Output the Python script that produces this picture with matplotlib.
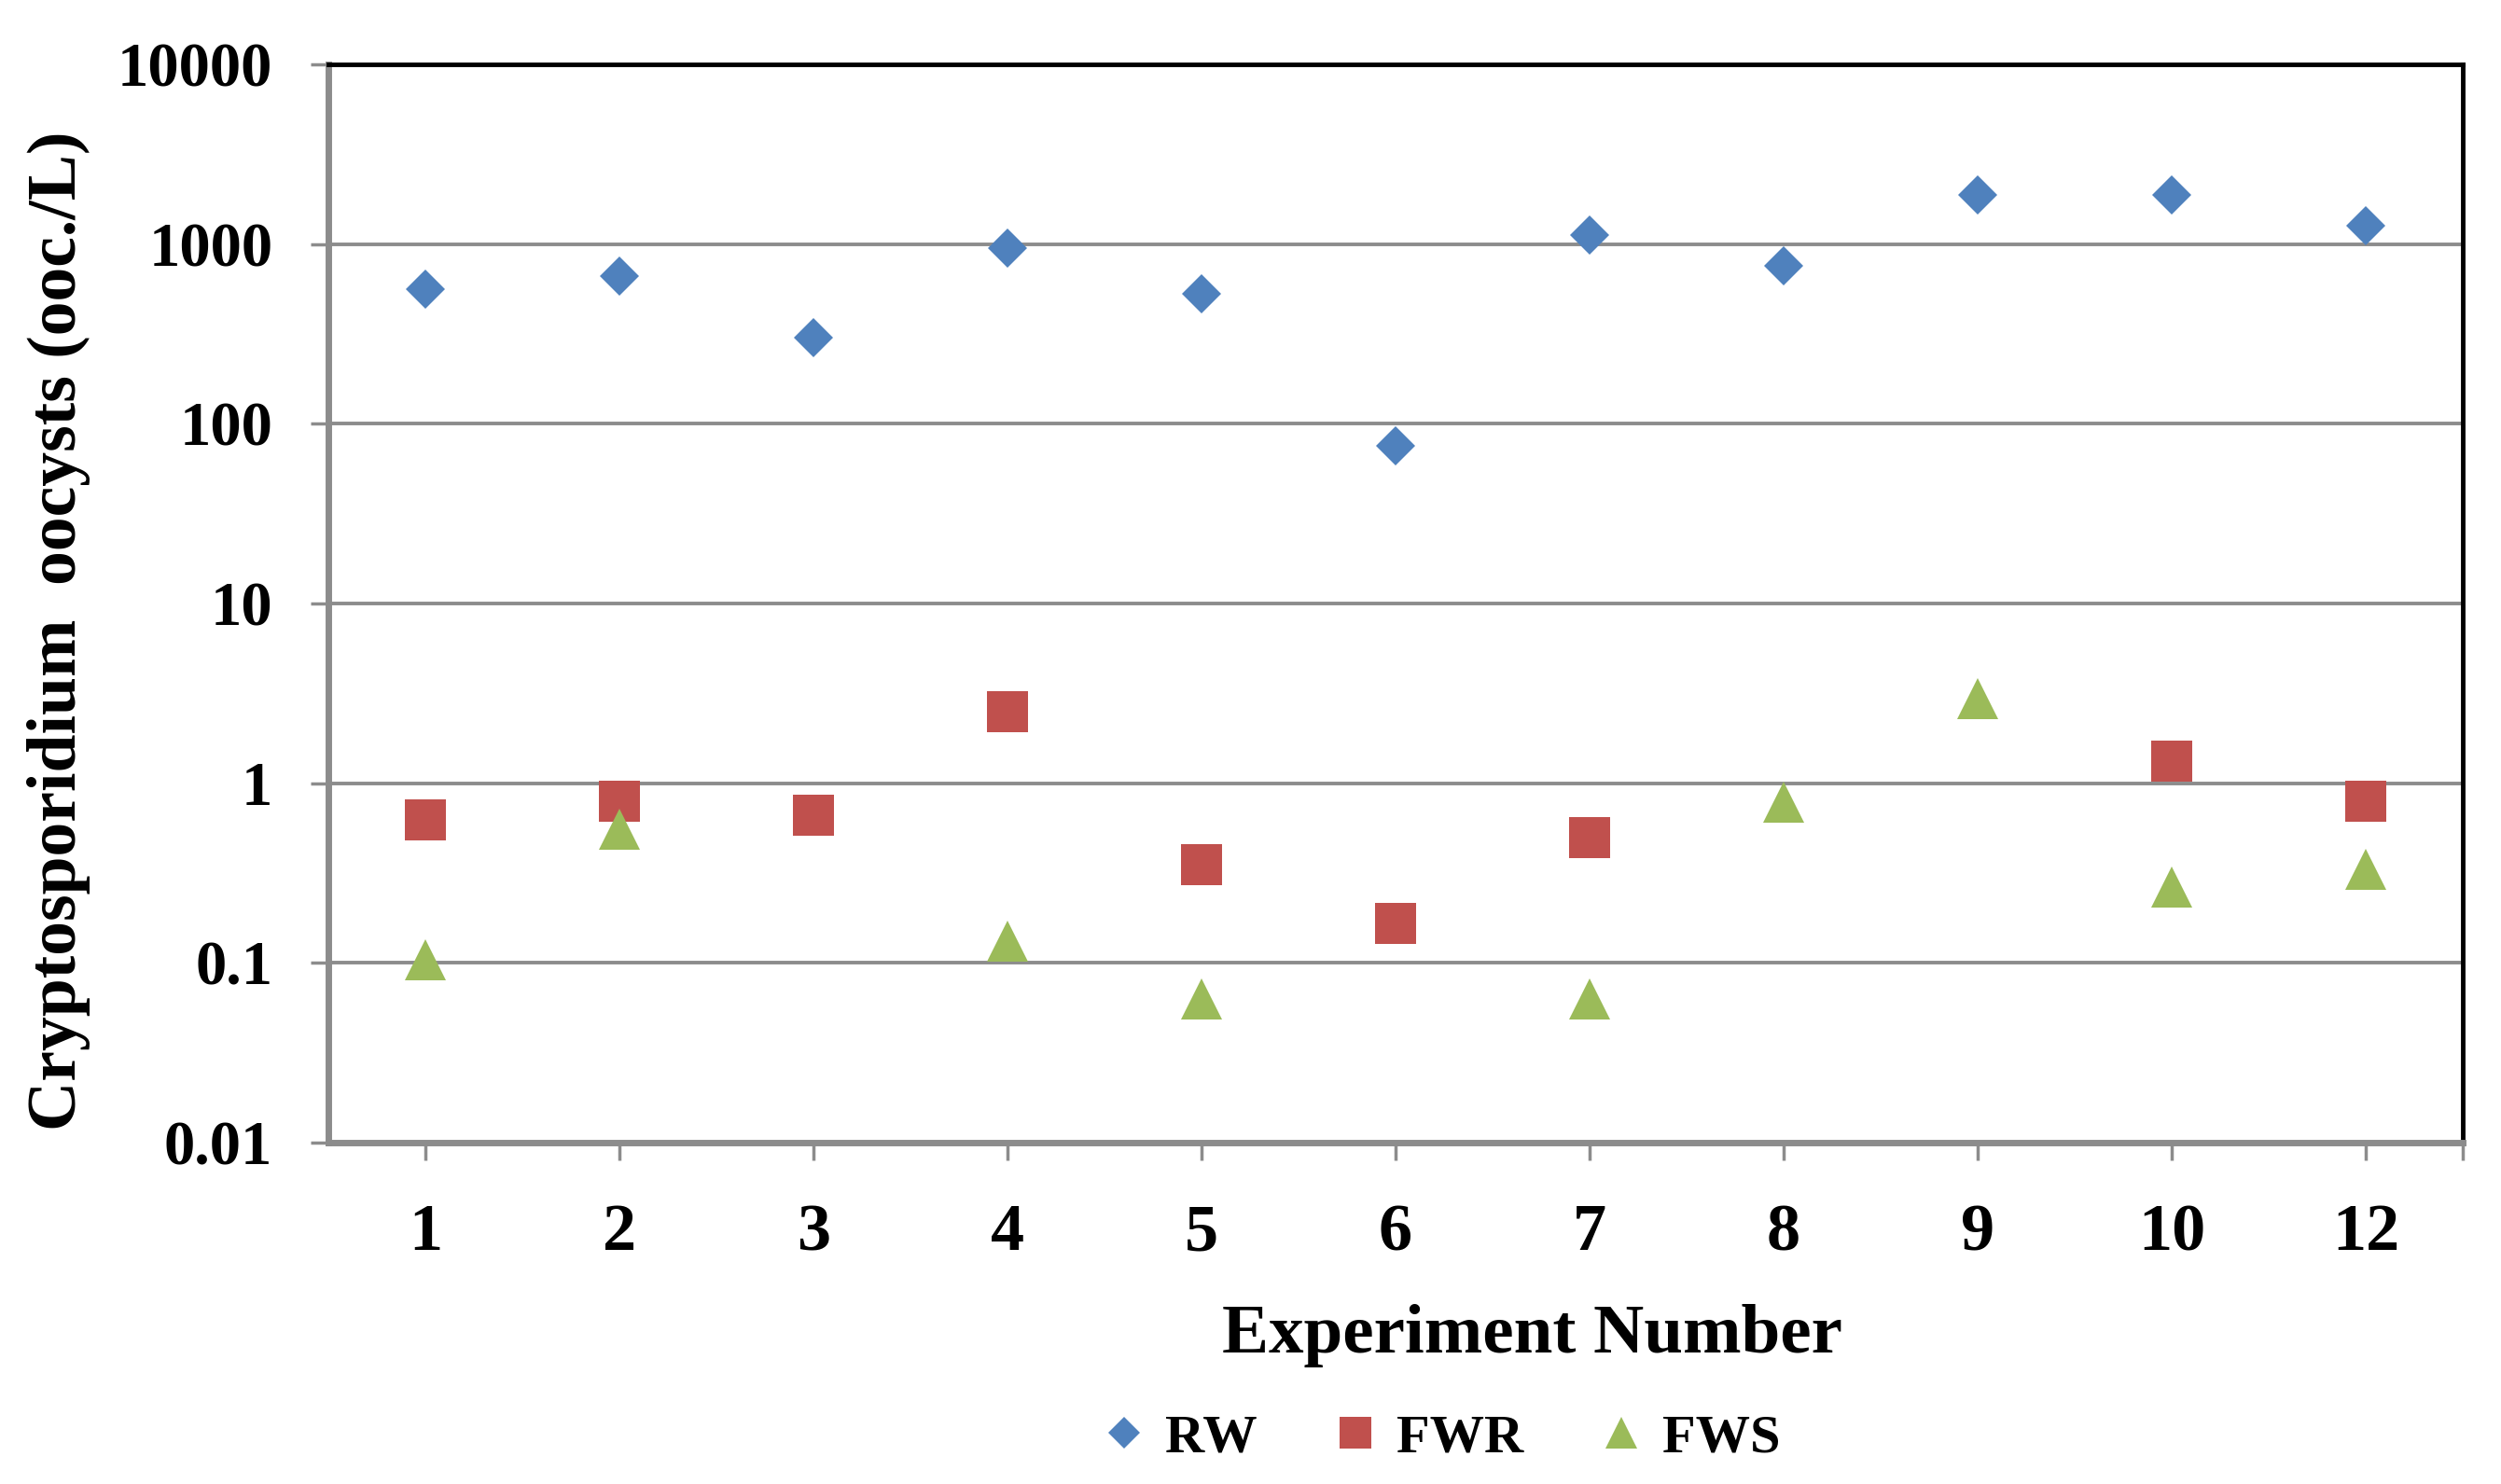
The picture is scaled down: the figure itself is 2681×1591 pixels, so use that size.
import numpy as np
import matplotlib
matplotlib.use('Agg')
import matplotlib.pyplot as plt
from matplotlib.ticker import NullLocator

# ---- data ----
categories = ['1', '2', '3', '4', '5', '6', '7', '8', '9', '10', '12']
rw = [560, 665, 300, 950, 530, 75, 1120, 755, 1880, 1880, 1260]
fwr = [0.626, 0.79, 0.665, 2.50, 0.354, 0.165, 0.50, np.nan, np.nan, 1.33, 0.79]
fws = [0.1035, 0.555, np.nan, 0.132, 0.063, np.nan, 0.063, 0.78, 2.97, 0.264, 0.33]
y_ticks = [0.01, 0.1, 1, 10, 100, 1000, 10000]
y_tick_labels = ['0.01', '0.1', '1', '10', '100', '1000', '10000']
series_names = ['RW', 'FWR', 'FWS']

plt.rcParams['font.family'] = ['Liberation Serif', 'DejaVu Serif']
plt.rcParams['font.weight'] = 'bold'

W, H = 2681, 1591
fig = plt.figure(figsize=(W / 100, H / 100), dpi=100)
left, right, top, bottom = 352, 2640, 69, 1225
ax = fig.add_axes([left / W, 1 - bottom / H, (right - left) / W, (bottom - top) / H])

grid_col = '#8c8c8c'
x = np.arange(len(categories))
ax.plot(x, rw, ls='none', marker='D', ms=21.4, color='#4F81BD', mec='#4F81BD', mew=0, label=series_names[0], zorder=3)
ax.plot(x, fwr, ls='none', marker='s', ms=31, color='#C0504D', mec='#C0504D', mew=0, label=series_names[1], zorder=4)
ax.plot(x, fws, ls='none', marker='^', ms=31, color='#9BBB59', mec='#9BBB59', mew=0, label=series_names[2], zorder=5)

ax.set_yscale('log')
ax.set_ylim(0.01, 10000)
ax.set_xlim(-0.5, 10.5)
ax.set_yticks(y_ticks)
ax.set_yticklabels(y_tick_labels)
ax.yaxis.set_minor_locator(NullLocator())
ax.set_xticks(x)
ax.set_xticklabels(categories)
ax.set_xticks([10.5], minor=True)

ax.tick_params(axis='x', which='both', length=14, width=2.5, color=grid_col,
               direction='out', pad=33, labelsize=52)
ax.tick_params(axis='y', which='major', length=14, width=2.5, color=grid_col,
               direction='out', pad=29, labelsize=48)
for lab in ax.get_xticklabels() + ax.get_yticklabels():
    lab.set_fontweight('bold')

ax.yaxis.grid(True, color=grid_col, lw=2.8)
ax.set_axisbelow(True)

ax.spines['left'].set_color(grid_col)
ax.spines['left'].set_linewidth(5)
ax.spines['bottom'].set_color(grid_col)
ax.spines['bottom'].set_linewidth(5)
ax.spines['top'].set_color('black')
ax.spines['top'].set_linewidth(3.5)
ax.spines['right'].set_color('black')
ax.spines['right'].set_linewidth(3.5)

fig.text(63 / W, 1 - 676 / H, 'Cryptosporidium  oocysts (ooc./L)', rotation=90,
         ha='center', va='center', fontsize=53, fontweight='bold')
fig.text(1642 / W, 1 - 1450 / H, 'Experiment Number', ha='center', va='baseline',
         fontsize=54, fontweight='bold')

ax.legend(loc='center', bbox_to_anchor=(1548 / W, 1 - 1542 / H), bbox_transform=fig.transFigure,
          ncol=3, frameon=False, prop={'weight': 'bold', 'size': 42},
          handlelength=0.6, handletextpad=0.45, columnspacing=1.5, markerscale=0.8)

fig.savefig('out.png', dpi=100, facecolor='white')
